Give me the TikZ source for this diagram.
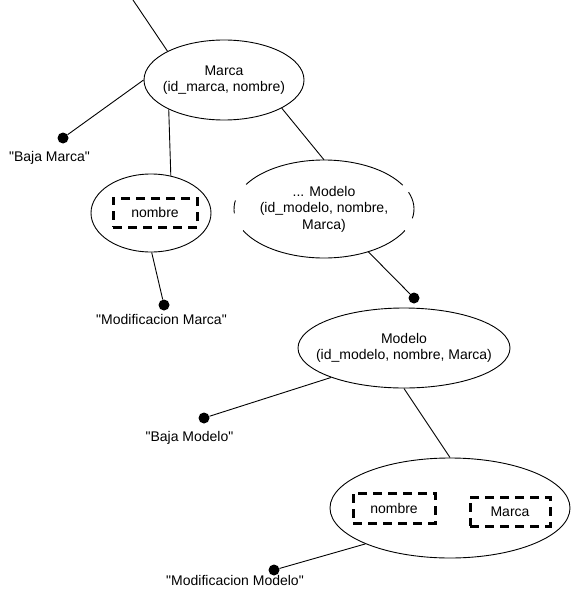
\documentclass[tikz,border=0pt]{standalone}
\usepackage{fontspec}
% plain font family: keeps straight quote marks as typed
\newfontfamily\diagfont{Liberation Sans}
\usetikzlibrary{shapes.geometric}
\begin{document}
\begin{tikzpicture}[x=1pt,y=1pt,
  ent/.style={ellipse, draw, line width=0.9pt, inner sep=0pt},
  txt/.style={align=center, inner sep=0pt, font=\diagfont\fontsize{14}{16.5}\selectfont},
  attbox/.style={draw, line width=3pt, dash pattern=on 9pt off 6pt, inner sep=0pt,
    font=\diagfont\fontsize{14}{16.5}\selectfont},
  dot/.style={circle, fill, inner sep=0pt, minimum size=11pt},
  link/.style={line width=0.9pt}]
\useasboundingbox (0,0) rectangle (571,-591);

% entity Marca
\node[ent, minimum width=160pt, minimum height=80pt] (marca) at (224,-80) {};
\node[txt] (marcaT) at (marca.center) {Marca\\(id\_marca, nombre)};

% modification of Marca: attribute nombre
\node[ent, minimum width=120pt, minimum height=78pt] (modMarca) at (151,-213) {};
\node[attbox, minimum width=84pt, minimum height=29pt] (nomA) at (155,-212.5) {nombre};

% partial entity "... Modelo" (outline with gaps at the sides)
\node[ellipse, inner sep=0pt, minimum width=180pt, minimum height=98pt] (dmod) at (324,-209) {};
\node[txt] (dmodT) at (dmod.center) {... Modelo\\(id\_modelo, nombre,\\Marca)};
\foreach \a/\b in {29/150, 170/185, 206/334, -11/20}
  \draw[link] ([shift={(\a:90pt and 49pt)}]dmod.center)
    arc[start angle=\a, end angle=\b, x radius=90pt, y radius=49pt];

% entity Modelo
\node[ent, minimum width=212pt, minimum height=80pt] (modelo) at (404,-348) {};
\node[txt] (modeloT) at (modelo.center) {Modelo\\(id\_modelo, nombre, Marca)};

% modification of Modelo: attributes nombre and Marca
\node[ent, minimum width=240pt, minimum height=100pt] (modModelo) at (450,-508) {};
\node[attbox, minimum width=82pt, minimum height=30pt] (nomB) at (394,-508) {nombre};
\node[attbox, minimum width=80pt, minimum height=29pt] (marB) at (510,-511.5) {Marca};

% end points
\node[dot] (dBajaMarca) at (63,-138) {};
\node[dot] (dModMarca) at (164,-305) {};
\node[dot] (dModelo) at (414,-298) {};
\node[dot] (dBajaModelo) at (204,-418) {};
\node[dot] (dModModelo) at (274,-570) {};

% operation labels
\node[txt] (lBajaMarca) at (49.5,-158) {"Baja Marca"};
\node[txt] (lModMarca) at (161.5,-319) {"Modificacion Marca"};
\node[txt] (lBajaModelo) at (189.5,-438) {"Baja Modelo"};
\node[txt] (lModModelo) at (235,-580) {"Modificacion Modelo"};

% connectors
\coordinate (topEnd) at (133,0);
\draw[link] (topEnd) -- (marca.153);
\draw[link] (marca.180) -- (dBajaMarca);
\draw[link] (marca.208.6) -- (modMarca.62);
\draw[link] (marca.334) -- (dmod.90);
\draw[link] (modMarca.271.5) -- (dModMarca);
\draw[link] (dmod.-44) -- (dModelo);
\draw[link] (modelo.202.9) -- (dBajaModelo);
\draw[link] (modelo.270) -- (modModelo.90);
\draw[link] (modModelo.203.5) -- (dModModelo);
\end{tikzpicture}
\end{document}
